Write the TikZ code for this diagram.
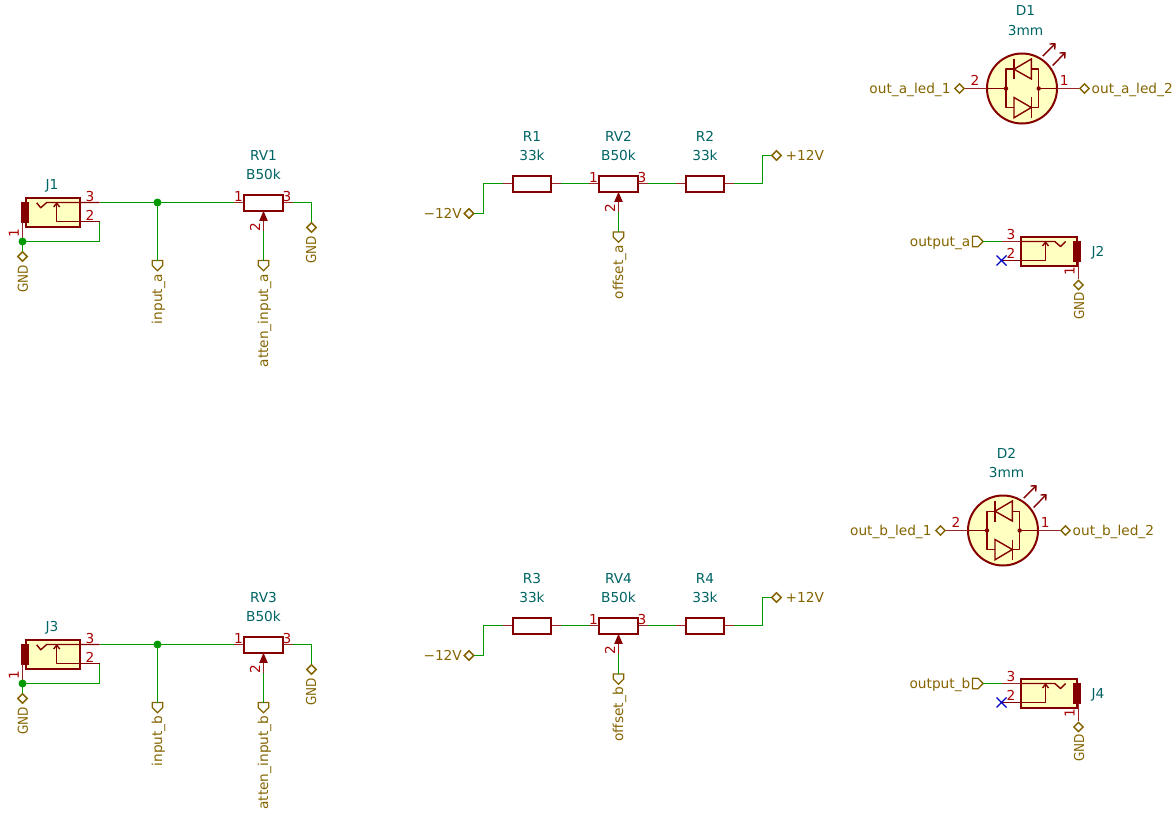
\documentclass[tikz,border=0pt]{standalone}
\usepackage{fontspec}
\setmainfont{DejaVu Sans}
\definecolor{bodyc}{HTML}{840000}
\definecolor{fillc}{HTML}{FFFFC2}
\definecolor{wirec}{HTML}{009A00}
\definecolor{pinc}{HTML}{A90000}
\definecolor{refc}{HTML}{006464}
\definecolor{lblc}{HTML}{846400}
\definecolor{ncc}{HTML}{0000C2}
\newcommand{\kf}{\fontsize{13.7}{15}\selectfont}
\newcommand{\gndtext}{\scalebox{0.88}[1]{GND}}
\tikzset{
  x=1pt,y=-1pt,
  wire/.style={draw=wirec,line width=1.6pt,line join=miter},
  body/.style={draw=bodyc,line width=2pt,line join=miter},
  thin body/.style={draw=bodyc,line width=1.4pt,line join=round},
  lead/.style={draw=bodyc!85!white,line width=1.4pt},
  glabel/.style={draw=lblc,line width=1.3pt},
  txt/.style={inner sep=0pt,font=\kf,anchor=base},
  reft/.style={txt,text=refc},
  pint/.style={txt,text=pinc},
  lblt/.style={txt,text=lblc},
  gndt/.style={txt,text=lblc,rotate=90,anchor=base east},
  rottxt/.style={rotate=90},
  junc/.style={circle,fill=wirec,draw=none,minimum size=8pt,inner sep=0pt},
  pics/jackin/.style={code={
    \coordinate (-p3) at (0,0);
    \coordinate (-p2) at (0,19);
    \coordinate (-p1) at (-77,39);
    \draw[body,fill=fillc] (-73.8,-4.3) rectangle (-19.2,24.3);
    \draw[body,fill=bodyc] (-77.5,0) rectangle (-72,19.7);
    \draw[thin body] (-p3) -- (-52.8,0) -- (-58.8,5.3) -- (-62.8,0.3);
    \draw[thin body] (-p2) -- (-42.8,19) -- (-42.8,0.6);
    \draw[thin body] (-45.8,4.5) -- (-42.8,0.6) -- (-39.8,4.5);
    \draw[lead] (-77,19.7) -- (-p1);
    \node[reft] (-ref) at (-47.5,-13.5) {#1};
    \node[pint] (-n3) at (-9.5,-1.5) {3};
    \node[pint] (-n2) at (-9.5,17.5) {2};
    \node[pint,rottxt,anchor=base] (-n1) at (-80.5,30.5) {1};
  }},
  pics/jackout/.style={code={
    \coordinate (-p3) at (0,0);
    \coordinate (-p2) at (0,19);
    \coordinate (-p1) at (77,37);
    \draw[body,fill=fillc] (19.6,-5) rectangle (75,24);
    \draw[body,fill=bodyc] (72.8,0) rectangle (78.7,19);
    \draw[lead] (-p3) -- (19.6,0);
    \draw[thin body] (19.6,0) -- (53.3,0) -- (59,5) -- (64,0);
    \draw[thin body] (-p2) -- (44,19) -- (44,0.6);
    \draw[thin body] (41,4.5) -- (44,0.6) -- (47,4.5);
    \draw[lead] (77,19) -- (-p1);
    \node[reft] (-ref) at (96.5,14.5) {#1};
    \node[pint] (-n3) at (9.5,-2.5) {3};
    \node[pint] (-n2) at (9.5,16.5) {2};
    \node[pint,rottxt] (-n1) at (73,29.5) {1};
    \draw[draw=ncc,line width=1.1pt] (-5,14) -- (5,24) (-5,24) -- (5,14);
  }},
  pics/potm/.style 2 args={code={
    \coordinate (-l) at (-29.5,0);
    \coordinate (-r) at (29,0);
    \coordinate (-w) at (0,28.5);
    \draw[lead] (-l) -- (-19.7,0) (19.1,0) -- (-r) (0,18.4) -- (-w);
    \draw[body,fill=white] (-19.7,-7.7) rectangle (19.1,8);
    \fill[bodyc] (0,8.4) -- (4.3,18.4) -- (-4.3,18.4) -- cycle;
    \node[reft] (-ref) at (0,-42) {#1};
    \node[reft] (-val) at (0,-23) {#2};
    \node[pint] (-n1) at (-25,-1.5) {1};
    \node[pint] (-n3) at (23.6,-1.5) {3};
    \node[pint,rottxt] (-n2) at (-3.5,24.5) {2};
  }},
  pics/resis/.style 2 args={code={
    \coordinate (-l) at (-29,0);
    \coordinate (-r) at (29,0);
    \draw[lead] (-l) -- (-19.4,0) (19.4,0) -- (-r);
    \draw[body,fill=white] (-19.4,-7.7) rectangle (19.4,8);
    \node[reft] (-ref) at (0,-42) {#1};
    \node[reft] (-val) at (0,-23) {#2};
  }},
  pics/ledpair/.style 2 args={code={
    \coordinate (-l) at (-58,0);
    \coordinate (-r) at (58,0);
    \draw[body,fill=fillc] (0,0) circle[radius=35];
    \draw[lead] (-l) -- (-35,0) (35,0) -- (-r);
    \draw[thin body] (-35,0) -- (-16,0) (16.7,0) -- (35,0);
    \draw[thin body] (-16,-19.3) rectangle (16.7,18.7);
    \fill[bodyc] (-16,0) circle[radius=2.2] (16.7,0) circle[radius=2.2];
    \draw[thin body,line join=miter,fill=fillc] (-8,-19.3) -- (9.3,-29.5) -- (9.3,-9.5) -- cycle;
    \draw[thin body,line join=miter] (-8,-29.8) -- (-8,-9);
    \draw[thin body,line join=miter,fill=fillc] (9.3,19) -- (-8,9) -- (-8,29.3) -- cycle;
    \draw[thin body,line join=miter] (9.3,9) -- (9.3,29.5);
    \draw[thin body] (20.7,-32.3) -- (33,-44.7);
    \draw[thin body] (27.5,-44.5) -- (33,-44.7) -- (32.7,-39);
    \draw[thin body] (30.7,-23) -- (43,-35.7);
    \draw[thin body] (37.5,-35.5) -- (43,-35.7) -- (42.7,-30);
    \node[reft] (-ref) at (3.5,-72.5) {#1};
    \node[reft] (-val) at (3.5,-53) {#2};
    \node[pint] (-n2) at (-47,-3.5) {2};
    \node[pint] (-n1) at (42.3,-3.5) {1};
  }},
  pics/pwrdia/.style={code={
    \coordinate (-c) at (0,0);
    \draw[glabel,fill=white] (-4.6,0) -- (0,-4.6) -- (4.6,0) -- (0,4.6) -- cycle;
  }},
  pics/downlabel/.style={code={
    \coordinate (-t) at (0,0);
    \draw[glabel,fill=white] (-5.3,0) -- (5.3,0) -- (5.3,5) -- (0,10.2) -- (-5.3,5) -- cycle;
  }},
  pics/rightlabel/.style={code={
    \coordinate (-t) at (10.6,0);
    \draw[glabel,fill=white] (0,-5.3) -- (5.4,-5.3) -- (10.6,0) -- (5.4,5.3) -- (0,5.3) -- cycle;
  }},
}
\begin{document}
\begin{tikzpicture}
\useasboundingbox (0,0) rectangle (1176,816);
% ---- top-left and bottom-left blocks
\foreach \dy/\ja/\ra/\sa/\ib/\ab in {0/J1/RV1/a/input\_a/atten\_input\_a, 442/J3/RV3/b/input\_b/atten\_input\_b}{
  \begin{scope}[shift={(0,\dy)}]
  \pic (\ja) at (99.5,202.5) {jackin={\ja}};
  \pic (\ra) at (263.5,202.5) {potm={\ra}{B50k}};
  \node[junc] (jn\sa) at (157.5,202.5) {};
  \node[junc] (jg\sa) at (22.5,241.5) {};
  \pic (il\sa) at (157.5,260.5) {downlabel};
  \pic (al\sa) at (263.5,260.5) {downlabel};
  \pic (gs\sa) at (22.5,256.5) {pwrdia};
  \pic (gp\sa) at (311.5,227.5) {pwrdia};
  \draw[wire] (\ja-p3) -- (jn\sa.center) -- (\ra-l);
  \draw[wire] (jn\sa.center) -- (il\sa-t);
  \draw[wire] (\ra-w) -- (al\sa-t);
  \draw[wire] (\ra-r) -| (gp\sa-c);
  \draw[wire] (jg\sa.center) -- (gs\sa-c);
  \draw[wire] (jg\sa.center) -| (\ja-p2);
  \pic (gs\sa) at (22.5,256.5) {pwrdia};
  \pic (gp\sa) at (311.5,227.5) {pwrdia};
  \node[gndt] (gstxt\sa) at (27.8,265) {\gndtext};
  \node[gndt] (gptxt\sa) at (316,236) {\gndtext};
  \node[lblt,rottxt,anchor=base east] (iltxt\sa) at (162,273.5) {\ib};
  \node[lblt,rottxt,anchor=base east] (altxt\sa) at (268,273.5) {\ab};
  \end{scope}
}
% ---- middle blocks
\foreach \dy/\ra/\rb/\rv/\rc/\ol in {0/R1/R2/RV2/a/offset\_a, 442/R3/R4/RV4/b/offset\_b}{
  \begin{scope}[shift={(0,\dy)}]
  \pic (\ra) at (532,183.5) {resis={\ra}{33k}};
  \pic (\rv) at (618.5,183.5) {potm={\rv}{B50k}};
  \pic (\rb) at (705,183.5) {resis={\rb}{33k}};
  \pic (of\rc) at (618.5,232) {downlabel};
  \coordinate (ka\rc) at (483.5,183.5);
  \coordinate (kb\rc) at (483.5,213.5);
  \coordinate (kc\rc) at (762.5,183.5);
  \coordinate (kd\rc) at (762.5,155.5);
  \pic (mn\rc) at (469,213.5) {pwrdia};
  \pic (pl\rc) at (776.5,155.5) {pwrdia};
  \draw[wire] (\ra-r) -- (\rv-l);
  \draw[wire] (\rv-r) -- (\rb-l);
  \draw[wire] (\ra-l) -- (ka\rc) -- (kb\rc) -- (mn\rc-c);
  \draw[wire] (\rb-r) -- (kc\rc) -- (kd\rc) -- (pl\rc-c);
  \draw[wire] (\rv-w) -- (of\rc-t);
  \pic (mn\rc) at (469,213.5) {pwrdia};
  \pic (pl\rc) at (776.5,155.5) {pwrdia};
  \node[lblt,anchor=base east] (mntxt\rc) at (462,218) {−12V};
  \node[lblt,anchor=base west] (pltxt\rc) at (785.5,160) {+12V};
  \node[lblt,rottxt,anchor=base east] (oftxt\rc) at (623,245) {\ol};
  \end{scope}
}
% ---- LEDs
\foreach \dx/\dy/\dn/\ss in {0/0/D1/a, -19/442/D2/b}{
  \begin{scope}[shift={(\dx,\dy)}]
  \pic (\dn) at (1022,88.5) {ledpair={\dn}{3mm}};
  \pic (dl\ss) at (959.5,88.5) {pwrdia};
  \pic (dr\ss) at (1084.5,88.5) {pwrdia};
  \node[lblt,anchor=base east] (dltxt\ss) at (950.7,93) {out\_\ss\_led\_1};
  \node[lblt,anchor=base west] (drtxt\ss) at (1091.5,93) {out\_\ss\_led\_2};
  \end{scope}
}
% ---- output jacks
\foreach \dy/\jn/\ss in {0/J2/a, 442/J4/b}{
  \begin{scope}[shift={(0,\dy)}]
  \pic (\jn) at (1001.5,241.5) {jackout={\jn}};
  \pic (ol\ss) at (972.5,241.5) {rightlabel};
  \pic (og\ss) at (1078.5,285) {pwrdia};
  \draw[wire] (ol\ss-t) -- (\jn-p3);
  \node[lblt,anchor=base east] (oltxt\ss) at (970.5,246.7) {output\_\ss};
  \node[gndt] (ogtxt\ss) at (1084,292) {\gndtext};
  \end{scope}
}
\end{tikzpicture}
\end{document}
